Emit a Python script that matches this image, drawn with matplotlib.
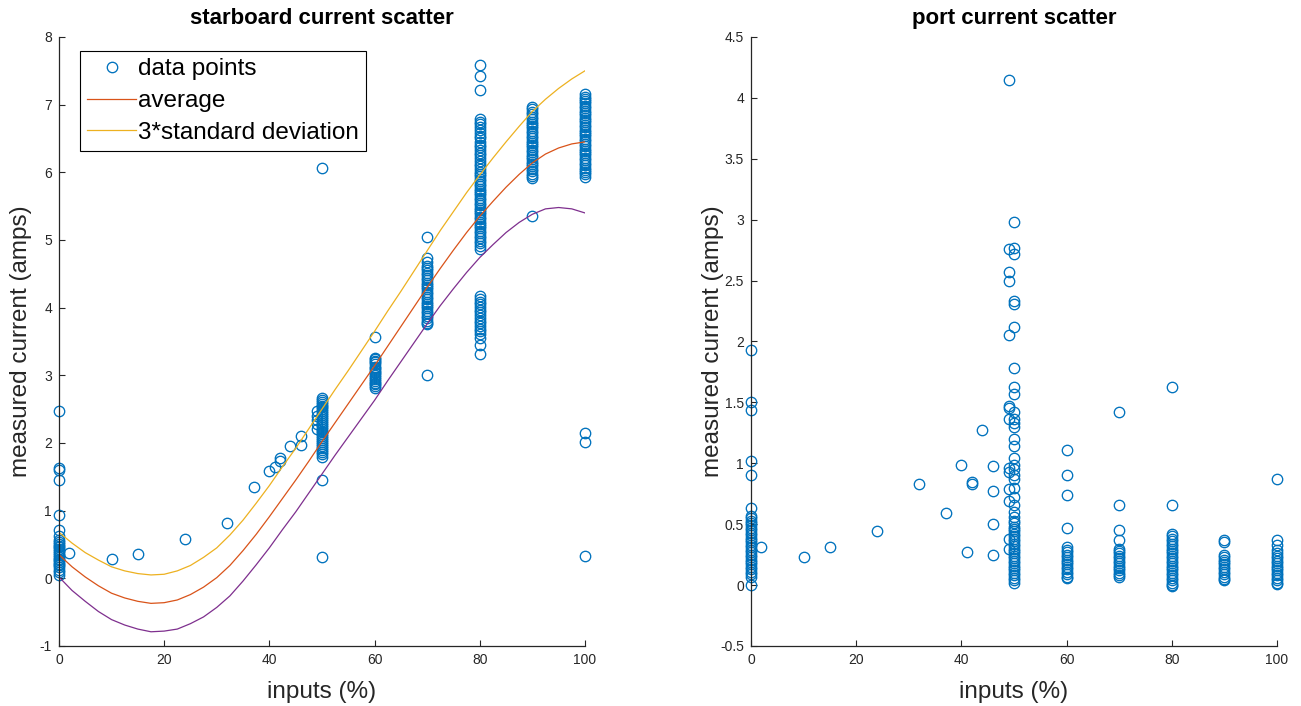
import numpy as np
import matplotlib
matplotlib.use("Agg")
import matplotlib.pyplot as plt

plt.rcParams["font.family"] = ["Liberation Sans", "DejaVu Sans"]

# -----------------------------------------------------------------------------
# Values
# -----------------------------------------------------------------------------
fit_inputs = [0, 2.5, 5, 7.5, 10, 12.5, 15, 17.5, 20, 22.5, 25, 27.5, 30, 32.5, 35, 37.5,
              40, 42.5, 45, 47.5, 50, 52.5, 55, 57.5, 60, 62.5, 65, 67.5, 70, 72.5, 75,
              77.5, 80, 82.5, 85, 87.5, 90, 92.5, 95, 97.5, 100]
sb_average = [0.35, 0.17, 0.02, -0.11, -0.22, -0.29, -0.34, -0.37, -0.36, -0.32, -0.24,
              -0.13, 0.01, 0.19, 0.41, 0.65, 0.91, 1.18, 1.45, 1.73, 2.02, 2.30, 2.58,
              2.86, 3.14, 3.43, 3.72, 4.01, 4.30, 4.58, 4.85, 5.11, 5.35, 5.57, 5.78,
              5.97, 6.14, 6.27, 6.36, 6.42, 6.45]
sb_upper = [0.68, 0.52, 0.38, 0.27, 0.17, 0.11, 0.07, 0.05, 0.06, 0.11, 0.19, 0.31, 0.45,
            0.64, 0.86, 1.11, 1.37, 1.65, 1.92, 2.21, 2.50, 2.79, 3.07, 3.36, 3.65, 3.95,
            4.24, 4.54, 4.84, 5.14, 5.42, 5.70, 5.96, 6.21, 6.45, 6.68, 6.90, 7.08, 7.24,
            7.38, 7.50]
sb_lower = [0.02, -0.18, -0.34, -0.49, -0.61, -0.69, -0.75, -0.79, -0.78, -0.75, -0.67,
            -0.57, -0.43, -0.26, -0.04, 0.20, 0.45, 0.72, 0.98, 1.26, 1.54, 1.82, 2.09,
            2.36, 2.63, 2.92, 3.20, 3.48, 3.76, 4.03, 4.28, 4.52, 4.74, 4.93, 5.11, 5.26,
            5.38, 5.46, 5.48, 5.46, 5.40]

# starboard scatter, one list per input setting
sb_col_0 = [2.48, 1.63, 1.60, 1.46, 0.93, 0.71, 0.62, 0.56, 0.54, 0.51, 0.48, 0.46, 0.43,
            0.40, 0.37, 0.35, 0.32, 0.29, 0.27, 0.24, 0.21, 0.19, 0.16, 0.13, 0.10, 0.05]
sb_sparse_inputs = [2, 10, 15, 24, 32, 37, 40, 41, 42, 42, 44, 46, 46, 49, 49, 49, 49, 49]
sb_sparse_current = [0.38, 0.29, 0.36, 0.58, 0.82, 1.35, 1.58, 1.64, 1.74, 1.78, 1.96, 1.97,
                     2.10, 2.21, 2.28, 2.34, 2.40, 2.47]
sb_col_50 = [6.07, 2.66, 2.64, 2.61, 2.58, 2.55, 2.53, 2.50, 2.47, 2.44, 2.41, 2.38, 2.36,
             2.33, 2.30, 2.27, 2.24, 2.21, 2.18, 2.16, 2.13, 2.10, 2.07, 2.04, 2.01, 1.98,
             1.95, 1.92, 1.89, 1.86, 1.83, 1.80, 1.46, 0.32]
sb_col_60 = [3.57, 3.26, 3.24, 3.21, 3.19, 3.16, 3.13, 3.11, 3.08, 3.05, 3.03, 3.00, 2.97,
             2.95, 2.92, 2.89, 2.87, 2.84, 2.81]
sb_col_70 = [5.05, 4.74, 4.67, 4.62, 4.58, 4.55, 4.51, 4.48, 4.44, 4.41, 4.37, 4.34, 4.30,
             4.27, 4.23, 4.20, 4.16, 4.13, 4.09, 4.06, 4.02, 3.99, 3.95, 3.92, 3.88, 3.85,
             3.81, 3.78, 3.76, 3.01]
sb_col_80 = [7.58, 7.43, 7.21, 6.79, 6.75, 6.71, 6.67, 6.62, 6.58, 6.54, 6.50, 6.45, 6.41,
             6.37, 6.33, 6.29, 6.25, 6.21, 6.17, 6.13, 6.09, 6.05, 6.01, 5.97, 5.94, 5.90,
             5.87, 5.83, 5.80, 5.76, 5.73, 5.69, 5.66, 5.62, 5.59, 5.55, 5.52, 5.48, 5.45,
             5.41, 5.38, 5.34, 5.31, 5.27, 5.24, 5.20, 5.17, 5.13, 5.10, 5.06, 5.03, 4.99,
             4.95, 4.91, 4.87,
             4.17, 4.13, 4.09, 4.05, 4.01, 3.97, 3.93, 3.89, 3.85, 3.81, 3.77, 3.73, 3.69,
             3.65, 3.61, 3.55, 3.45, 3.32]
sb_col_90 = [6.96, 6.93, 6.89, 6.86, 6.82, 6.79, 6.75, 6.72, 6.68, 6.65, 6.61, 6.58, 6.54,
             6.51, 6.47, 6.44, 6.40, 6.37, 6.33, 6.30, 6.26, 6.23, 6.19, 6.16, 6.12, 6.09,
             6.05, 6.02, 5.98, 5.95, 5.91, 5.36]
sb_col_100 = [7.16, 7.12, 7.09, 7.05, 7.02, 6.98, 6.95, 6.91, 6.88, 6.84, 6.81, 6.77, 6.74,
              6.70, 6.67, 6.63, 6.60, 6.56, 6.53, 6.49, 6.46, 6.42, 6.39, 6.35, 6.32, 6.28,
              6.25, 6.21, 6.18, 6.14, 6.11, 6.07, 6.04, 6.00, 5.97, 5.93, 2.15, 2.01, 0.33]

# port scatter
pt_col_0 = [1.93, 1.50, 1.44, 1.02, 0.90, 0.63, 0.57, 0.55, 0.53, 0.51, 0.49, 0.47, 0.45,
            0.43, 0.41, 0.39, 0.37, 0.35, 0.33, 0.31, 0.29, 0.27, 0.25, 0.23, 0.21, 0.19,
            0.17, 0.15, 0.13, 0.11, 0.09, 0.07, 0.00]
pt_sparse_inputs = [2, 10, 15, 24, 32, 37, 40, 41, 42, 42, 44, 46, 46, 46, 46]
pt_sparse_current = [0.31, 0.23, 0.31, 0.44, 0.83, 0.59, 0.99, 0.27, 0.83, 0.85, 1.27, 0.98,
                     0.77, 0.50, 0.25]
pt_col_49 = [4.15, 2.76, 2.57, 2.50, 2.05, 1.47, 1.45, 1.36, 0.96, 0.93, 0.79, 0.69, 0.38, 0.30]
pt_col_50 = [2.98, 2.77, 2.72, 2.33, 2.31, 2.12, 1.78, 1.63, 1.57, 1.42, 1.36, 1.33, 1.30,
             1.20, 1.14, 1.04, 0.99, 0.95, 0.90, 0.87, 0.80, 0.72, 0.66, 0.60, 0.56, 0.53,
             0.51, 0.48, 0.46, 0.44, 0.42, 0.40, 0.38, 0.36, 0.34, 0.32, 0.30, 0.28, 0.26,
             0.24, 0.22, 0.20, 0.18, 0.16, 0.14, 0.12, 0.10, 0.08, 0.06, 0.04, 0.02]
pt_col_60 = [1.11, 0.90, 0.74, 0.47, 0.31, 0.29, 0.27, 0.25, 0.23, 0.21, 0.19, 0.17, 0.15,
             0.13, 0.11, 0.09, 0.07, 0.06]
pt_col_70 = [1.42, 0.66, 0.45, 0.37, 0.30, 0.28, 0.26, 0.24, 0.22, 0.20, 0.18, 0.16, 0.14,
             0.12, 0.10, 0.08, 0.07]
pt_col_80 = [1.63, 0.66, 0.42, 0.40, 0.38, 0.36, 0.34, 0.32, 0.30, 0.28, 0.26, 0.24, 0.22,
             0.20, 0.18, 0.16, 0.14, 0.12, 0.10, 0.08, 0.06, 0.04, 0.02, 0.00, -0.01]
pt_col_90 = [0.37, 0.35, 0.25, 0.23, 0.21, 0.19, 0.17, 0.15, 0.13, 0.11, 0.09, 0.07, 0.05, 0.04]
pt_col_100 = [0.87, 0.37, 0.33, 0.29, 0.26, 0.24, 0.22, 0.20, 0.18, 0.16, 0.14, 0.12, 0.10,
              0.08, 0.06, 0.04, 0.02, 0.01]

x_ticks = [0, 20, 40, 60, 80, 100]
sb_y_ticks = [-1, 0, 1, 2, 3, 4, 5, 6, 7, 8]
sb_y_labels = ["-1", "0", "1", "2", "3", "4", "5", "6", "7", "8"]
pt_y_ticks = [-0.5, 0, 0.5, 1, 1.5, 2, 2.5, 3, 3.5, 4, 4.5]
pt_y_labels = ["-0.5", "0", "0.5", "1", "1.5", "2", "2.5", "3", "3.5", "4", "4.5"]

# -----------------------------------------------------------------------------
# Assemble scatter columns
# -----------------------------------------------------------------------------
def stack(columns, sparse_x, sparse_y):
    xs, ys = list(sparse_x), list(sparse_y)
    for inp, vals in columns:
        xs += [inp] * len(vals)
        ys += list(vals)
    return np.array(xs, dtype=float), np.array(ys, dtype=float)

sb_x, sb_y = stack([(0, sb_col_0), (50, sb_col_50), (60, sb_col_60), (70, sb_col_70),
                    (80, sb_col_80), (90, sb_col_90), (100, sb_col_100)],
                   sb_sparse_inputs, sb_sparse_current)
pt_x, pt_y = stack([(0, pt_col_0), (49, pt_col_49), (50, pt_col_50), (60, pt_col_60),
                    (70, pt_col_70), (80, pt_col_80), (90, pt_col_90), (100, pt_col_100)],
                   pt_sparse_inputs, pt_sparse_current)

# -----------------------------------------------------------------------------
# Plot
# -----------------------------------------------------------------------------
blue = "#0072BD"
orange = "#D95319"
yellow = "#EDB120"
purple = "#7E2F8E"
axis_grey = "#262626"

fig = plt.figure(figsize=(13.01, 7.06), dpi=100)
ax1 = fig.add_axes([0.0453, 0.085, 0.4043, 0.8626])
ax2 = fig.add_axes([0.5772, 0.085, 0.4043, 0.8626])

marker_kw = dict(linestyle="none", marker="o", markerfacecolor="none",
                 markeredgecolor=blue, markersize=7.5, markeredgewidth=0.95, clip_on=False)

h_pts, = ax1.plot(sb_x, sb_y, label="data points", **marker_kw)
h_avg, = ax1.plot(fit_inputs, sb_average, color=orange, lw=0.9, label="average")
h_up, = ax1.plot(fit_inputs, sb_upper, color=yellow, lw=0.9, label="3*standard deviation")
ax1.plot(fit_inputs, sb_lower, color=purple, lw=0.9)

ax2.plot(pt_x, pt_y, **marker_kw)

for ax, yt, yl, lim, title in [(ax1, sb_y_ticks, sb_y_labels, (-1, 8), "starboard current scatter"),
                               (ax2, pt_y_ticks, pt_y_labels, (-0.5, 4.5), "port current scatter")]:
    ax.set_xlim(0, 100)
    ax.set_ylim(*lim)
    ax.set_xticks(x_ticks)
    ax.set_xticklabels([str(t) for t in x_ticks])
    ax.set_yticks(yt)
    ax.set_yticklabels(yl)
    for side in ["top", "right"]:
        ax.spines[side].set_visible(False)
    for side in ["left", "bottom"]:
        ax.spines[side].set_color(axis_grey)
        ax.spines[side].set_linewidth(0.9)
    ax.tick_params(direction="in", length=4, width=0.8, colors=axis_grey,
                   labelsize=10, pad=5)
    ax.set_title(title, fontsize=16, fontweight="bold", pad=9)
    ax.set_xlabel("inputs (%)", fontsize=17.5, color=axis_grey)
    ax.set_ylabel("measured current (amps)", fontsize=17.5, color=axis_grey)
    ax.xaxis.set_label_coords(0.5, -0.058)
    ax.yaxis.set_label_coords(-0.052, 0.5)

leg = ax1.legend(handles=[h_pts, h_avg, h_up], loc="upper left",
                 bbox_to_anchor=(0.040, 0.977), borderaxespad=0, fontsize=17.5,
                 frameon=True, fancybox=False, edgecolor="black", framealpha=1,
                 handlelength=2.0, handletextpad=0.08, labelspacing=0.4,
                 borderpad=0.3)
leg.get_frame().set_linewidth(0.8)

fig.savefig("out.png", dpi=100)
